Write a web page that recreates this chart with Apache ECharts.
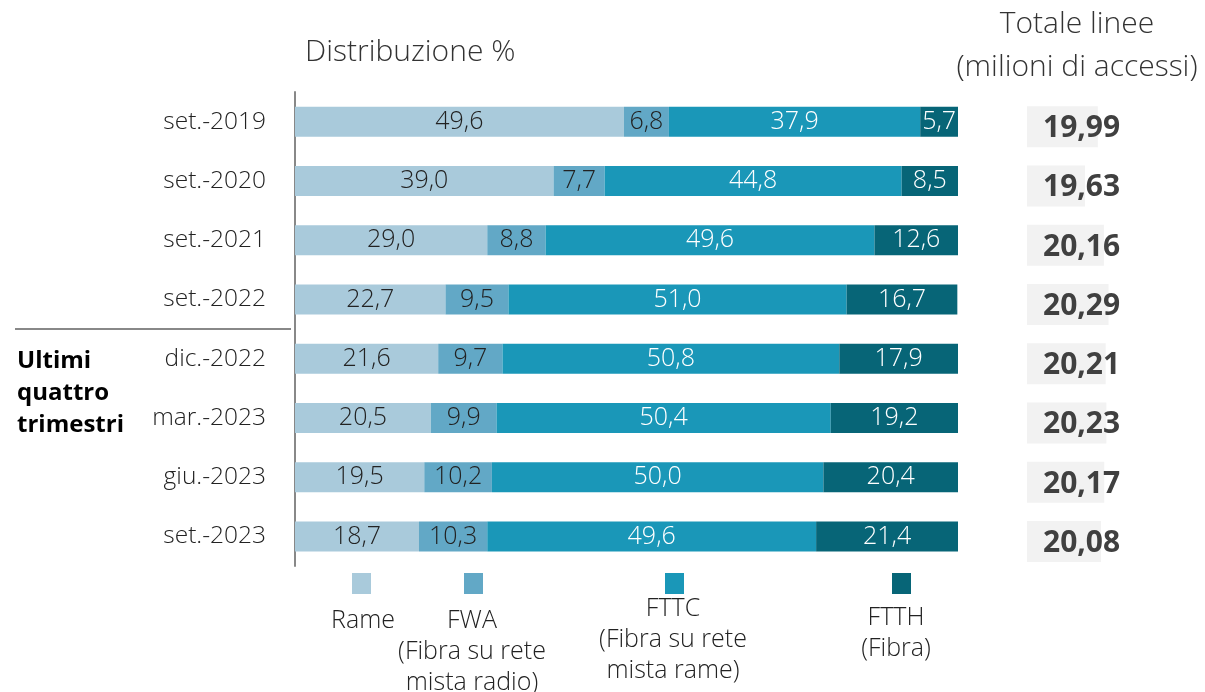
<!DOCTYPE html>
<html>
<head>
<meta charset="utf-8">
<title>Distribuzione accessi</title>
<script src="https://cdn.jsdelivr.net/npm/echarts@6/dist/echarts.min.js"></script>
<style>
	html, body { margin: 0; padding: 0; background: #fff; }
	#chart { width: 1205px; height: 692px; }
</style>
</head>
<body>
<div id="chart"></div>
<script>
//-----------------------------------------------------------------------------/
// dati
//-----------------------------------------------------------------------------/
var periodi = ['set.-2019', 'set.-2020', 'set.-2021', 'set.-2022', 'dic.-2022', 'mar.-2023', 'giu.-2023', 'set.-2023'];
var rame = [49.6, 39.0, 29.0, 22.7, 21.6, 20.5, 19.5, 18.7];
var fwa = [6.8, 7.7, 8.8, 9.5, 9.7, 9.9, 10.2, 10.3];
var fttc = [37.9, 44.8, 49.6, 51.0, 50.8, 50.4, 50.0, 49.6];
var ftth = [5.7, 8.5, 12.6, 16.7, 17.9, 19.2, 20.4, 21.4];
var totali = [19.99, 19.63, 20.16, 20.29, 20.21, 20.23, 20.17, 20.08];

var nomiSerie = ['Rame', 'FWA', 'FTTC', 'FTTH'];
var legendaTesti = ['Rame', 'FWA\n(Fibra su rete\nmista radio)', 'FTTC\n(Fibra su rete\nmista rame)', 'FTTH\n(Fibra)'];
var colori = ['#a9cadb', '#62a8c6', '#1a97b8', '#076577'];
var coloriTesto = ['#222222', '#222222', '#ffffff', '#ffffff'];

var fontBase = '"Open Sans", "Noto Sans", sans-serif';

// numero con virgola
function virgola(v, dec) {
	return v.toFixed(dec).replace('.', ',');
}

function serieBarra(i, dati) {
	return {
		name : nomiSerie[i],
		type : 'bar',
		stack : 'tot',
		barWidth : 30,
		xAxisIndex : 0,
		yAxisIndex : 0,
		itemStyle : { color : colori[i] },
		label : {
			show : true,
			position : 'inside',
			color : coloriTesto[i],
			fontFamily : fontBase,
			fontWeight : 300,
			fontSize : 25,
			formatter : function(p) { return virgola(p.value, 1); }
		},
		data : dati
	};
}

// legenda a mano (quadratini con testo sotto)
function legenda() {
	var posX = [362, 474, 675, 902];
	var testoX = [363, 472, 673, 896];
	var testoY = [605, 605, 593, 602];
	var el = [];
	for (var i = 0; i < 4; i++) {
		el.push({
			type : 'rect',
			shape : { x : posX[i] - 10, y : 573, width : 19, height : 21 },
			style : { fill : colori[i] }
		});
		el.push({
			type : 'text',
			x : testoX[i],
			y : testoY[i],
			style : {
				text : legendaTesti[i],
				fill : '#222',
				font : '300 25px ' + fontBase,
				align : 'center',
				verticalAlign : 'top',
				lineHeight : 31
			}
		});
	}
	return el;
}

function disegna() {
	var myChart = echarts.init(document.getElementById('chart'));
	var graf = [ {
		type : 'text',
		x : 305,
		y : 52,
		style : {
			text : 'Distribuzione %',
			fill : '#333',
			font : '300 30px ' + fontBase,
			verticalAlign : 'middle'
		}
	}, {
		type : 'text',
		x : 1077,
		y : 46,
		style : {
			text : 'Totale linee\n(milioni di accessi)',
			fill : '#333',
			font : '300 30px ' + fontBase,
			align : 'center',
			verticalAlign : 'middle',
			lineHeight : 43
		}
	}, {
		type : 'text',
		x : 17,
		y : 393,
		style : {
			text : 'Ultimi\nquattro\ntrimestri',
			fill : '#000',
			font : 'bold 24px ' + fontBase,
			verticalAlign : 'middle',
			lineHeight : 32
		}
	}, {
		type : 'line',
		shape : { x1 : 15, y1 : 329, x2 : 291, y2 : 329 },
		style : { stroke : '#888', lineWidth : 2 }
	} ];
	graf = graf.concat(legenda());

	var option = {
		animation : false,
		grid : [ {
			left : 295, top : 92, width : 663, height : 474
		}, {
			left : 1027, top : 97, width : 182, height : 474
		} ],
		xAxis : [ {
			type : 'value', gridIndex : 0, min : 0, max : 100, show : false
		}, {
			type : 'value', gridIndex : 1, min : 18, max : 23, show : false
		} ],
		yAxis : [ {
			type : 'category',
			gridIndex : 0,
			inverse : true,
			data : periodi,
			axisLine : { show : true, lineStyle : { color : '#888', width : 2 } },
			axisTick : { show : false },
			axisLabel : {
				margin : 29,
				color : '#222',
				fontFamily : fontBase,
				fontWeight : 300,
				fontSize : 24.5
			}
		}, {
			type : 'category',
			gridIndex : 1,
			inverse : true,
			data : periodi,
			show : false
		} ],
		series : [
			serieBarra(0, rame),
			serieBarra(1, fwa),
			serieBarra(2, fttc),
			serieBarra(3, ftth),
			{
				name : 'Totale',
				type : 'bar',
				xAxisIndex : 1,
				yAxisIndex : 1,
				barWidth : 41,
				itemStyle : { color : '#f2f2f2' },
				label : {
					show : true,
					position : 'insideLeft',
					distance : 16,
					offset : [0, 2],
					color : '#404040',
					fontFamily : fontBase,
					fontWeight : 'bold',
					fontSize : 30,
					formatter : function(p) { return virgola(p.value, 2); }
				},
				data : totali
			}
		],
		graphic : graf
	};
	myChart.setOption(option);
}

disegna();
</script>
</body>
</html>
